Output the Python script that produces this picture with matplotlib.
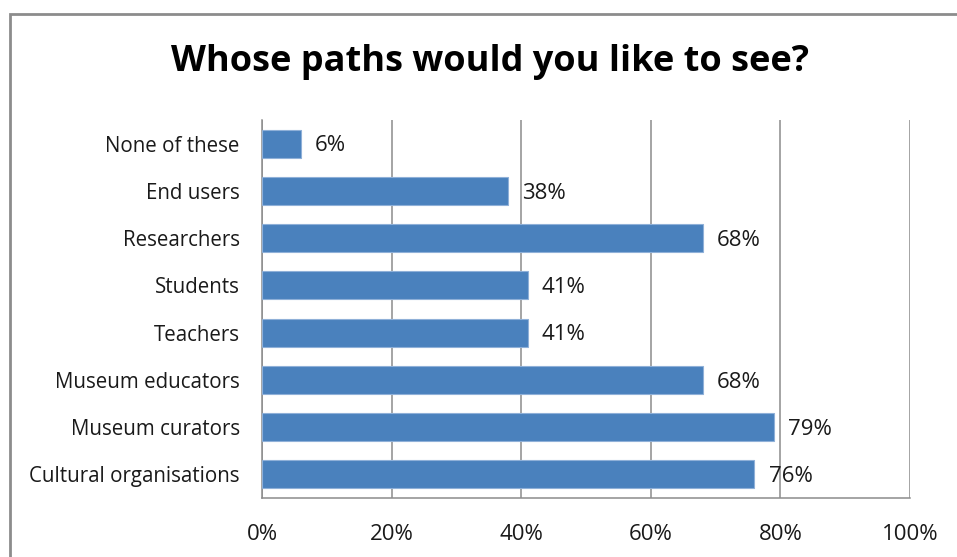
import matplotlib
matplotlib.use("Agg")
import matplotlib.pyplot as plt
from matplotlib.patches import Rectangle

categories = ["None of these", "End users", "Researchers", "Students", "Teachers",
              "Museum educators", "Museum curators", "Cultural organisations"]
values = [6, 38, 68, 41, 41, 68, 79, 76]
xticks = [0, 20, 40, 60, 80, 100]
xtick_labels = ["0%", "20%", "40%", "60%", "80%", "100%"]
title = "Whose paths would you like to see?"

plt.rcParams['font.family'] = ['Open Sans', 'DejaVu Sans']

fig = plt.figure(figsize=(9.57, 5.57), dpi=100)
fig.patch.set_facecolor("white")

# outer chart frame (extends beyond right/bottom edges)
fig.patches.append(Rectangle((10 / 957, -0.05), 1.1, 1 - 14 / 557 + 0.05,
                             transform=fig.transFigure, fill=False,
                             edgecolor="#8c8c8c", linewidth=2.0, zorder=0))

ax = fig.add_axes([262 / 957, 1 - 498 / 557, (910 - 262) / 957, (498 - 120) / 557])

n = len(categories)
ypos = list(range(n))[::-1]
ax.barh(ypos, values, height=0.59, color="#4A81BD", edgecolor="#8fb0d8",
        linewidth=0.8, zorder=3)

for y, v in zip(ypos, values):
    ax.text(v + 2.2, y - 0.05, f"{v}%", va="center", ha="left", fontsize=16,
            color="#1a1a1a", zorder=4)

ax.set_xlim(0, 100)
ax.set_ylim(-0.5, n - 0.5)
ax.set_xticks(xticks)
ax.set_xticklabels(xtick_labels, fontsize=16, color="#1a1a1a")
ax.set_yticks(ypos)
ax.set_yticklabels(categories, fontsize=14.8, color="#1a1a1a")
ax.tick_params(axis="x", length=0, pad=19)
ax.tick_params(axis="y", length=0, pad=16)

ax.xaxis.grid(True, color="#8c8c8c", linewidth=1.1, zorder=1)
ax.set_axisbelow(True)
for s in ["left", "bottom"]:
    ax.spines[s].set_color("#8c8c8c")
    ax.spines[s].set_linewidth(1.1)
ax.spines["top"].set_visible(False)
ax.spines["right"].set_visible(False)

fig.text(490 / 957, 1 - 62 / 557, title, ha="center", va="center",
         fontsize=26, fontweight="bold", color="black")

fig.savefig("out.png", dpi=100)
